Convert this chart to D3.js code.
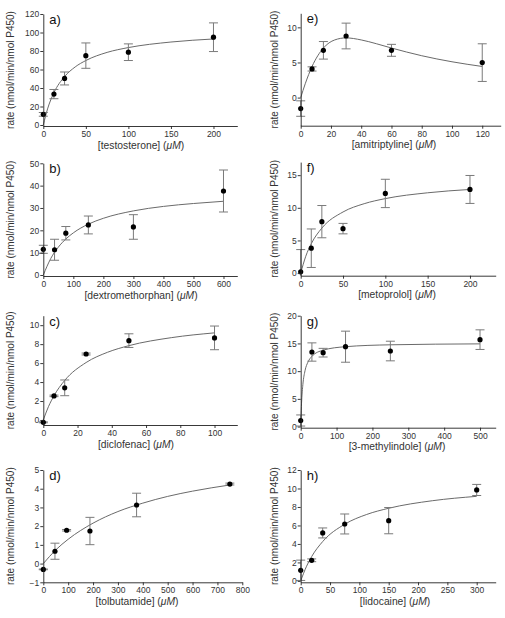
<!DOCTYPE html>
<html>
<head>
<meta charset="utf-8">
<script src="https://cdn.jsdelivr.net/npm/d3@7"></script>
<style>
  html, body { margin: 0; padding: 0; background: #fff; }
  svg { display: block; font-family: "Liberation Sans", Arial, Helvetica, sans-serif; }
</style>
</head>
<body>
<svg id="chart" width="505" height="618"></svg>
<script>
// ---------------- DATA ----------------
const panelLabels = ["a)", "b)", "c)", "d)", "e)", "f)", "g)", "h)"];
const substrates = ["testosterone", "dextromethorphan", "diclofenac", "tolbutamide",
                    "amitriptyline", "metoprolol", "3-methylindole", "lidocaine"];
const yTitle = "rate (nmol/min/nmol P450)";

// a) testosterone
const aX = [0, 12.5, 25, 50, 100, 200];
const aY = [11.5, 33.4, 50.3, 75, 78.7, 94.9];
const aErr = [2, 5, 7, 13.7, 9, 15.5];
const aFitX = [0, 5, 12.5, 25, 37.5, 50, 75, 100, 150, 200];
const aFitY = [0, 17.4, 34.9, 52.3, 62.8, 69.7, 78.5, 83.7, 89.7, 93];
const aXTicks = [0, 50, 100, 150, 200];
const aYTicks = [0, 20, 40, 60, 80, 100, 120];

// b) dextromethorphan
const bX = [0, 37.5, 75, 150, 300, 600];
const bY = [11.5, 11.3, 18.7, 22.4, 21.5, 37.6];
const bErr = [1.8, 4.7, 3, 4, 5.5, 9.4];
const bFitX = [0, 25, 50, 75, 100, 150, 200, 300, 400, 500, 600];
const bFitY = [0, 7.42, 12.46, 16.1, 18.86, 22.76, 25.38, 28.7, 30.7, 32.0, 33.0];
const bXTicks = [0, 100, 200, 300, 400, 500, 600];
const bYTicks = [0, 10, 20, 30, 40, 50];

// c) diclofenac
const cX = [0, 6.25, 12.5, 25, 50, 100];
const cY = [-0.25, 2.54, 3.39, 6.96, 8.37, 8.66];
const cErr = [0.05, 0.08, 0.83, 0.1, 0.72, 1.25];
const cFitX = [0, 3, 6.25, 12.5, 25, 37.5, 50, 75, 100];
const cFitY = [0, 1.4, 2.56, 4.17, 6.06, 7.14, 7.84, 8.69, 9.19];
const cXTicks = [0, 20, 40, 60, 80, 100];
const cYTicks = [0, 2, 4, 6, 8, 10];

// d) tolbutamide
const dX = [0, 46.9, 93.75, 187.5, 375, 750];
const dY = [-0.31, 0.66, 1.78, 1.74, 3.13, 4.25];
const dErr = [0.02, 0.43, 0.04, 0.73, 0.63, 0.05];
const dFitX = [0, 50, 100, 200, 300, 400, 500, 600, 750];
const dFitY = [0, 0.73, 1.30, 2.16, 2.78, 3.23, 3.59, 3.87, 4.2];
const dXTicks = [0, 100, 200, 300, 400, 500, 600, 700, 800];
const dYTicks = [-1, 0, 1, 2, 3, 4, 5];

// e) amitriptyline
const eX = [0, 7.5, 15, 30, 60, 120];
const eY = [-1.56, 4.08, 6.73, 8.77, 6.73, 4.98];
const eErr = [1.1, 0.3, 1.25, 1.83, 0.85, 2.68];
const eFitX = [0, 3, 7.5, 15, 22.5, 30, 40, 50, 60, 80, 100, 120];
const eFitY = [0, 1.97, 4.43, 7.05, 8.21, 8.5, 8.21, 7.67, 7.06, 5.96, 5.1, 4.43];
const eXTicks = [0, 20, 40, 60, 80, 100, 120];
const eYTicks = [0, 5, 10];

// f) metoprolol
const fX = [0, 12.5, 25, 50, 100, 200];
const fY = [0.2, 3.81, 7.88, 6.81, 12.2, 12.81];
const fErr = [3.4, 2.95, 2.47, 0.8, 2.17, 2.14];
const fFitX = [0, 6, 12.5, 25, 50, 75, 100, 150, 200];
const fFitY = [0, 2.58, 4.5, 6.89, 9.36, 10.63, 11.41, 12.30, 12.81];
const fXTicks = [0, 50, 100, 150, 200];
const fYTicks = [0, 5, 10, 15];

// g) 3-methylindole
const gX = [0, 31.25, 62.5, 125, 250, 500];
const gY = [1.1, 13.45, 13.33, 14.41, 13.63, 15.68];
const gErr = [1, 1.65, 0.78, 2.8, 1.77, 1.77];
const gFitX = [0, 1, 2.8, 6, 12, 20, 31.25, 62.5, 125, 250, 500];
const gFitY = [0, 2.16, 4.8, 7.55, 10.07, 11.6, 12.67, 13.78, 14.41, 14.75, 14.92];
const gXTicks = [0, 100, 200, 300, 400, 500];
const gYTicks = [0, 5, 10, 15, 20];

// h) lidocaine
const hX = [0, 18.75, 37.5, 75, 150, 300];
const hY = [1.15, 2.23, 5.19, 6.16, 6.52, 9.84];
const hErr = [1.1, 0.15, 0.54, 1.08, 1.42, 0.6];
const hFitX = [0, 10, 18.75, 37.5, 75, 112.5, 150, 225, 300];
const hFitY = [0, 1.59, 2.64, 4.26, 6.13, 7.19, 7.86, 8.68, 9.15];
const hXTicks = [0, 50, 100, 150, 200, 250, 300];
const hYTicks = [0, 2, 4, 6, 8, 10, 12];

// ---------------- LAYOUT (positions / domains) ----------------
const layout = [
  {x0: 43.3,  x1: 237.3, xMax: 228,   yTop: 14,    yBot: 126,   yMin: -1.08, yMax: 120, titleX: 141, yTitleX: 10.5},
  {x0: 43.3,  x1: 237.3, xMax: 646,   yTop: 163.3, yBot: 276,   yMin: -0.45, yMax: 50,  titleX: 141, yTitleX: 10.5},
  {x0: 43.3,  x1: 237.3, xMax: 113.3, yTop: 315.7, yBot: 425,   yMin: -0.53, yMax: 11,  titleX: 136, yTitleX: 10.5},
  {x0: 43.3,  x1: 242.3, xMax: 800,   yTop: 470,   yBot: 582.3, yMin: -1,    yMax: 5,   titleX: 137, yTitleX: 10.5},
  {x0: 300.7, x1: 500.7, xMax: 132.2, yTop: 13.3,  yBot: 125.7, yMin: -4,    yMax: 12,  titleX: 394, yTitleX: 274},
  {x0: 300.7, x1: 495.7, xMax: 230.4, yTop: 162.1, yBot: 275.7, yMin: -0.4,  yMax: 17,  titleX: 397, yTitleX: 274},
  {x0: 300.7, x1: 495.7, xMax: 543.7, yTop: 315.7, yBot: 427.7, yMin: -0.2,  yMax: 20,  titleX: 397, yTitleX: 274},
  {x0: 300.7, x1: 495.7, xMax: 332.4, yTop: 470,   yBot: 582.3, yMin: -0.15, yMax: 12,  titleX: 395, yTitleX: 274}
];

const series = [
  {x: aX, y: aY, err: aErr, fx: aFitX, fy: aFitY, xt: aXTicks, yt: aYTicks},
  {x: bX, y: bY, err: bErr, fx: bFitX, fy: bFitY, xt: bXTicks, yt: bYTicks},
  {x: cX, y: cY, err: cErr, fx: cFitX, fy: cFitY, xt: cXTicks, yt: cYTicks},
  {x: dX, y: dY, err: dErr, fx: dFitX, fy: dFitY, xt: dXTicks, yt: dYTicks},
  {x: eX, y: eY, err: eErr, fx: eFitX, fy: eFitY, xt: eXTicks, yt: eYTicks},
  {x: fX, y: fY, err: fErr, fx: fFitX, fy: fFitY, xt: fXTicks, yt: fYTicks},
  {x: gX, y: gY, err: gErr, fx: gFitX, fy: gFitY, xt: gXTicks, yt: gYTicks},
  {x: hX, y: hY, err: hErr, fx: hFitX, fy: hFitY, xt: hXTicks, yt: hYTicks}
];

// ---------------- DRAW ----------------
const svg = d3.select("#chart");
const axisColor = "#222";
const fitColor = "#6a6a6a";
const errColor = "#7a7a7a";
const capHalf = 4.5;
const fmt = d3.format("~g");

series.forEach((s, i) => {
  const L = layout[i];
  const x = d3.scaleLinear().domain([0, L.xMax]).range([L.x0, L.x1]);
  const y = d3.scaleLinear().domain([L.yMin, L.yMax]).range([L.yBot, L.yTop]);
  const g = svg.append("g");

  const clipId = "clip" + i;
  svg.append("clipPath").attr("id", clipId)
    .append("rect")
    .attr("x", L.x0 - 20).attr("y", L.yTop - 10)
    .attr("width", L.x1 - L.x0 + 40).attr("height", L.yBot - L.yTop + 10);

  // fitted curve
  const pts = s.fx.map((v, k) => [v, s.fy[k]]);
  g.append("path")
    .datum(pts)
    .attr("fill", "none")
    .attr("stroke", fitColor)
    .attr("stroke-width", 1)
    .attr("clip-path", `url(#${clipId})`)
    .attr("d", d3.line().x(d => x(d[0])).y(d => y(d[1])).curve(d3.curveMonotoneX));

  // error bars
  const data = s.x.map((v, k) => ({x: v, y: s.y[k], e: s.err[k]}));
  const eb = g.append("g").attr("clip-path", `url(#${clipId})`)
    .attr("stroke", errColor).attr("stroke-width", 1).attr("fill", "none");
  data.forEach(d => {
    const cx = x(d.x), yt = y(d.y + d.e), yb = y(d.y - d.e);
    eb.append("line").attr("x1", cx).attr("x2", cx).attr("y1", yt).attr("y2", yb);
    eb.append("line").attr("x1", cx - capHalf).attr("x2", cx + capHalf).attr("y1", yt).attr("y2", yt);
    eb.append("line").attr("x1", cx - capHalf).attr("x2", cx + capHalf).attr("y1", yb).attr("y2", yb);
  });

  // points
  g.append("g").selectAll("circle").data(data).join("circle")
    .attr("cx", d => x(d.x)).attr("cy", d => y(d.y))
    .attr("r", 2.6).attr("fill", "#000");

  // axes
  const xAxis = d3.axisBottom(x).tickValues(s.xt).tickFormat(fmt).tickSize(3).tickPadding(2).tickSizeOuter(0);
  const yAxis = d3.axisLeft(y).tickValues(s.yt).tickFormat(fmt).tickSize(3).tickPadding(1).tickSizeOuter(0);
  const gx = g.append("g").attr("transform", `translate(0,${L.yBot})`).call(xAxis);
  const gy = g.append("g").attr("transform", `translate(${L.x0},0)`).call(yAxis);
  [gx, gy].forEach(a => {
    a.selectAll("path, line").attr("stroke", axisColor).attr("stroke-width", 0.9);
    a.selectAll("text").attr("fill", "#333").style("font-size", "8.5px")
      .style("font-family", '"Liberation Sans", Arial, sans-serif');
  });

  // panel label
  g.append("text")
    .attr("x", L.x0 + 6).attr("y", L.yTop + 10)
    .attr("font-size", 13).attr("fill", "#111")
    .text(panelLabels[i]);

  // x title
  const xt = g.append("text")
    .attr("x", L.titleX).attr("y", L.yBot + 22.5)
    .attr("text-anchor", "middle").attr("font-size", 10.3).attr("fill", "#333");
  xt.append("tspan").text(`[${substrates[i]}] (`);
  xt.append("tspan").attr("font-style", "italic").text("\u03bcM");
  xt.append("tspan").text(")");

  // y title
  g.append("text")
    .attr("transform", `translate(${L.yTitleX},${(L.yTop + L.yBot) / 2}) rotate(-90)`)
    .attr("text-anchor", "middle").attr("dominant-baseline", "central")
    .attr("font-size", 10).attr("fill", "#333")
    .text(yTitle);
});
</script>
</body>
</html>
